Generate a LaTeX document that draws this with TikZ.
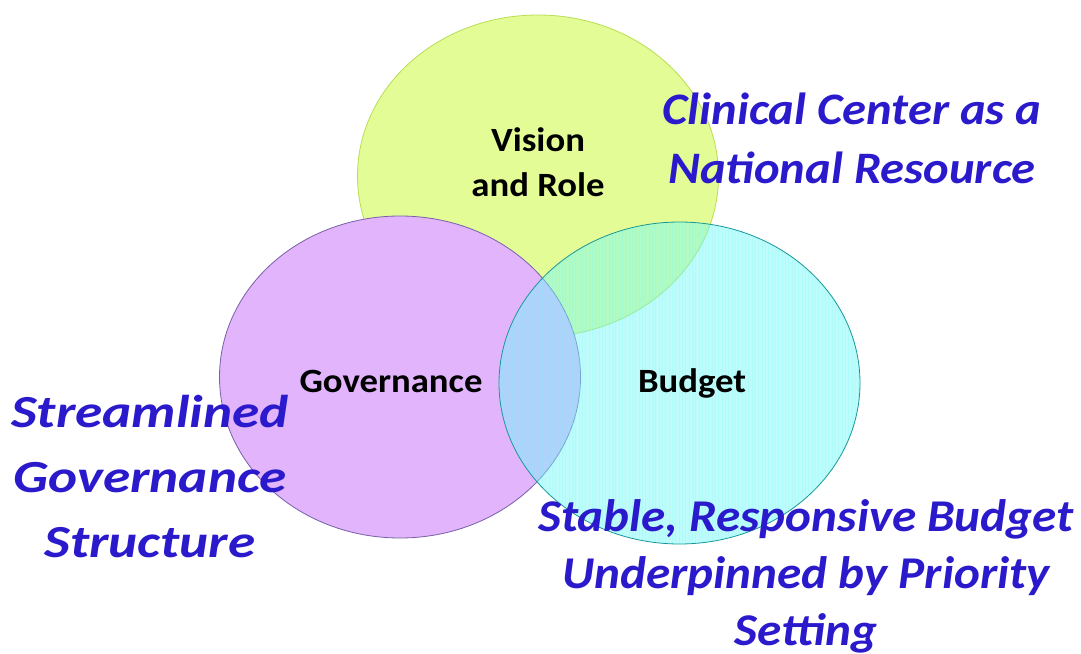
\documentclass[tikz,border=0pt]{standalone}
\usepackage{fontspec}
\setmainfont[FakeStretch=1.08]{Carlito}
\newfontfamily\widefont[FakeStretch=1.2]{Carlito}
\usetikzlibrary{shapes.geometric}
\definecolor{visionfill}{RGB}{228,252,150}
\definecolor{visionedge}{RGB}{184,222,80}
\definecolor{govfill}{RGB}{225,180,252}
\definecolor{govedge}{RGB}{120,96,168}
\definecolor{budgetfill}{RGB}{112,250,250}
\definecolor{budgetedge}{RGB}{24,152,152}
\definecolor{goalblue}{RGB}{42,26,204}
\tikzset{
  circ/.style={ellipse, inner sep=0pt, minimum width=361bp, minimum height=322bp, line width=0.8bp},
  areatext/.style={font=\fontsize{34bp}{45bp}\selectfont\bfseries, text=black, align=center},
  goaltext/.style={font=\fontsize{45bp}{59bp}\selectfont\bfseries\itshape, text=goalblue, align=center}
}
\begin{document}
\begin{tikzpicture}[x=1bp, y=-1bp]
  \useasboundingbox[fill=white] (0,0) rectangle (1081,654);
  % the three overlapping areas
  \node[circ, draw=visionedge, fill=visionfill] (vision) at (538,176) {};
  \node[circ, draw=govedge, fill=govfill] (gov) at (400,377) {};
  \node[circ, fill=budgetfill, fill opacity=0.45] (budget) at (679.5,383) {};
  % faint vertical hatching inside the budget area
  \begin{scope}
    \clip (679.5,383) ellipse [x radius=180.5, y radius=161];
    \foreach \i in {0,...,110} {
      \draw[budgetfill, line width=0.6bp, opacity=0.2] (499+\i*3.33,220) -- (499+\i*3.33,546);
    }
  \end{scope}
  \draw[budgetedge, line width=0.8bp] (679.5,383) ellipse [x radius=180.5, y radius=161];
  % area names
  \node[areatext] (visionlbl) at (538,162) {Vision\\and Role};
  \node[areatext] (govlbl) at (391,381) {Governance};
  \node[areatext] (budgetlbl) at (692,383) {Budget};
  % goals
  \node[goaltext] (goalvision) at (852,138) {Clinical Center as a\\National Resource};
  \node[goaltext, font=\fontsize{46bp}{65bp}\selectfont\widefont\bfseries\itshape] (goalgov) at (150,477) {Streamlined\\Governance\\Structure};
  \node[goaltext, font=\fontsize{45.5bp}{57bp}\selectfont\bfseries\itshape] (goalbudget) at (806,576) {Stable, Responsive Budget\\Underpinned by Priority\\Setting};
\end{tikzpicture}
\end{document}
